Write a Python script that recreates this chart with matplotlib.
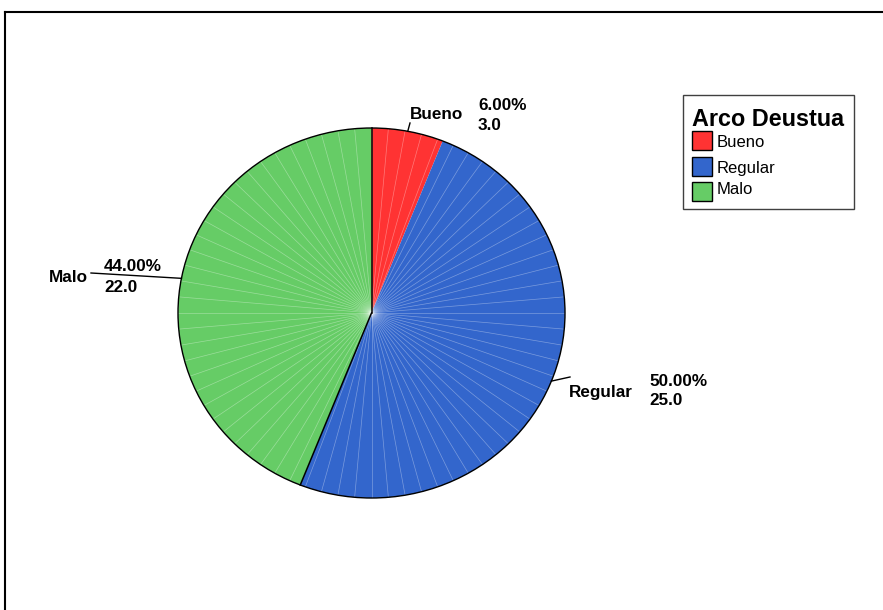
import numpy as np
import matplotlib
matplotlib.use("Agg")
import matplotlib.pyplot as plt
from matplotlib.patches import Rectangle, Ellipse
from matplotlib.lines import Line2D

categories = ["Bueno", "Regular", "Malo"]
counts = [3.0, 25.0, 22.0]
percents = ["6.00%", "50.00%", "44.00%"]
colors = ["#FF3333", "#3366CC", "#66CC66"]
legend_title = "Arco Deustua"

W, H = 883, 610
plt.rcParams['font.family'] = ['Liberation Sans', 'DejaVu Sans']
fig = plt.figure(figsize=(W / 100, H / 100), dpi=100)

# pie geometry in pixels (slightly elliptical, as in reference)
cx, cy, rx, ry = 371.5, 313.0, 193.5, 185.0
ax = fig.add_axes([0, 0, 1, 1])

wedges, _ = ax.pie(counts, colors=colors, startangle=90, counterclock=False,
                   radius=1.0, center=(0, 0), frame=True,
                   wedgeprops=dict(linewidth=0, edgecolor='none'))
ax.set_aspect('auto')
ax.set_xlim(-cx / rx, (W - cx) / rx)
ax.set_ylim((cy - H) / ry, cy / ry)
ax.axis('off')

# thin radial white lines (SPSS texture)
for a in np.arange(0, 360, 5.0):
    t = np.deg2rad(a)
    ax.plot([0, np.sin(t)], [0, np.cos(t)],
            color='white', lw=0.5, alpha=0.35, zorder=3)

# outline and slice boundaries (black) except Bueno/Regular
total = sum(counts)
cum = np.cumsum([0] + counts) / total * 360.0
ax.add_patch(Ellipse((0, 0), 2, 2, fill=False, edgecolor='black', lw=1.0, zorder=4))
for b in [cum[0], cum[2]]:
    t = np.deg2rad(b)
    ax.plot([0, np.sin(t)], [0, np.cos(t)], color='black', lw=1.1, zorder=4)

def px(x, y):
    return x / W, 1 - y / H

# label positions (pixel coords)
name_pos = [(410, 119), (569, 397), (49, 282)]
pct_pos = [(478, 110), (649, 386), (104, 271)]
cnt_pos = [(478, 130), (649, 405), (104, 292)]
leader_end = [(410, 123), (570, 377), (91, 273)]

for i, cat in enumerate(categories):
    mid = np.deg2rad((cum[i] + cum[i + 1]) / 2)
    ex = cx + np.sin(mid) * rx
    ey = cy - np.cos(mid) * ry
    lx, ly = leader_end[i]
    fig.add_artist(Line2D([ex / W, lx / W], [1 - ey / H, 1 - ly / H],
                          color='black', lw=1.0))
    fig.text(*px(*name_pos[i]), cat, fontsize=12.3, fontweight='bold', va='baseline', ha='left')
    fig.text(*px(*pct_pos[i]), percents[i], fontsize=12.3, fontweight='bold', va='baseline', ha='left')
    fig.text(*px(*cnt_pos[i]), f"{counts[i]:.1f}", fontsize=12.3, fontweight='bold', va='baseline', ha='left')

# outer frame (left and top visible)
fig.add_artist(Line2D([5 / W, 5 / W], [0, 1 - 12 / H], color='black', lw=1.5))
fig.add_artist(Line2D([5 / W, 1], [1 - 12 / H, 1 - 12 / H], color='black', lw=1.5))

# legend box
fig.add_artist(Rectangle(px(683, 209), 171 / W, 114 / H, fill=False,
                         edgecolor='#404040', lw=1.0, transform=fig.transFigure))
fig.text(*px(692, 126), legend_title, fontsize=16.8, fontweight='bold', va='baseline', ha='left')
patch_y = [131, 157, 182]
text_y = [147, 173, 194]
for i, cat in enumerate(categories):
    fig.add_artist(Rectangle(px(692, patch_y[i] + 19), 20 / W, 19 / H,
                             facecolor=colors[i], edgecolor='black', lw=1.0,
                             transform=fig.transFigure))
    fig.text(*px(717, text_y[i]), cat, fontsize=12, va='baseline', ha='left')

fig.savefig("out.png", dpi=100)
